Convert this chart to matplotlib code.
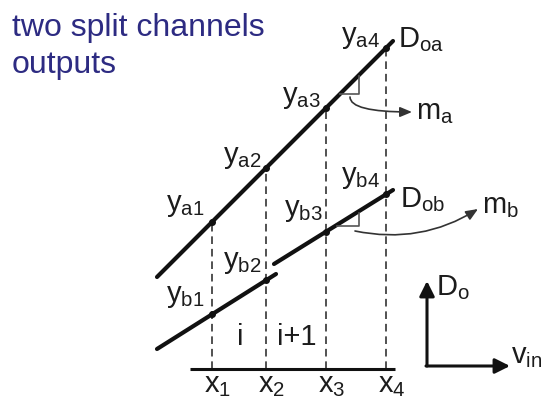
import matplotlib.pyplot as plt
from matplotlib.patches import FancyArrowPatch

plt.rcParams['font.family'] = ['Liberation Sans', 'DejaVu Sans']
plt.rcParams['mathtext.fontset'] = 'custom'
plt.rcParams['mathtext.rm'] = 'Liberation Sans'
plt.rcParams['mathtext.it'] = 'Liberation Sans'
plt.rcParams['lines.scale_dashes'] = False

# sampling points on the input axis
x_samples = [212, 266, 326, 386]
x_names = ['x_1', 'x_2', 'x_3', 'x_4']

# channel outputs at the sampling points
ya = [179, 233, 293, 353]
yb = [87, 121, 169, 207]
ya_names = ['y_{a1}', 'y_{a2}', 'y_{a3}', 'y_{a4}']
yb_names = ['y_{b1}', 'y_{b2}', 'y_{b3}', 'y_{b4}']

# drawn extent of each output segment
line_a_x, line_a_y = [157, 393], [124, 360]
line_b1_x, line_b1_y = [157, 276], [52, 127]
line_b2_x, line_b2_y = [274, 393], [137, 211]

base_y = 32
ink = '#111111'
txt = '#1c1c1c'

fig = plt.figure(figsize=(5.48, 4.02), dpi=100)
ax = fig.add_axes([0, 0, 1, 1])
ax.set_xlim(0, 548)
ax.set_ylim(0, 402)
ax.axis('off')

# title
ax.text(12, 366, 'two split channels', fontsize=23, color='#2d2b82', va='baseline')
ax.text(12, 329, 'outputs', fontsize=23, color='#2d2b82', va='baseline')

# dashed guides from the axis up to channel a
for x, y in zip(x_samples, ya):
    ax.plot([x, x], [base_y, y], color='#333333', lw=1.2, dashes=(5.5, 3.5))

# horizontal input axis
ax.plot([190, 395], [base_y, base_y], color=ink, lw=2.2, solid_capstyle='butt')

# output lines
ax.plot(line_a_x, line_a_y, color=ink, lw=3, solid_capstyle='round')
ax.plot(line_b1_x, line_b1_y, color=ink, lw=3, solid_capstyle='round')
ax.plot(line_b2_x, line_b2_y, color=ink, lw=3, solid_capstyle='round')
ax.plot(x_samples, ya, 'o', color=ink, ms=4)
ax.plot(x_samples, yb, 'o', color=ink, ms=4)

# slope triangles
ax.plot([340, 359, 359], [307, 307, 325], color='#555555', lw=1.2)
ax.plot([337, 359, 359], [175, 175, 188], color='#555555', lw=1.2)

fs = 21
# sample labels
ya_pos = [(204, 191), (261, 239), (321, 299), (380, 359)]
yb_pos = [(204, 100), (261, 134), (323, 186), (380, 219)]
for name, (px, py) in zip(ya_names, ya_pos):
    ax.text(px, py, r'$\mathregular{%s}$' % name, fontsize=fs, color=txt,
            ha='right', va='baseline')
for name, (px, py) in zip(yb_names, yb_pos):
    ax.text(px, py, r'$\mathregular{%s}$' % name, fontsize=fs, color=txt,
            ha='right', va='baseline')
for x, name in zip(x_samples, x_names):
    ax.text(x - 8, 10, r'$\mathregular{%s}$' % name, fontsize=fs, color=txt,
            ha='left', va='baseline')

ax.text(398, 355, r'$\mathregular{D_{oa}}$', fontsize=fs, color=txt, va='baseline')
ax.text(400, 195, r'$\mathregular{D_{ob}}$', fontsize=fs, color=txt, va='baseline')
ax.text(416, 283, r'$\mathregular{m_a}$', fontsize=fs, color=txt, va='baseline')
ax.text(482, 189, r'$\mathregular{m_b}$', fontsize=fs, color=txt, va='baseline')
ax.text(240, 57, 'i', fontsize=fs, color=txt, ha='center', va='baseline')
ax.text(297, 57, 'i+1', fontsize=fs, color=txt, ha='center', va='baseline')

# slope callouts
ax.add_patch(FancyArrowPatch((350, 304), (412, 289),
                             connectionstyle='angle3,angleA=90,angleB=0',
                             arrowstyle='-|>,head_length=0.6,head_width=0.25',
                             mutation_scale=12, color='#333333', lw=1.2,
                             shrinkA=0, shrinkB=0))
ax.add_patch(FancyArrowPatch((355, 170), (478, 192),
                             connectionstyle='arc3,rad=0.2',
                             arrowstyle='-|>,head_length=0.6,head_width=0.25',
                             mutation_scale=12, color='#333333', lw=1.2,
                             shrinkA=0, shrinkB=0))

# coordinate key
ax.add_patch(FancyArrowPatch((427, 35), (427, 120),
                             arrowstyle='-|>,head_length=0.6,head_width=0.3',
                             mutation_scale=15, color=ink, lw=2.2,
                             shrinkA=0, shrinkB=0))
ax.add_patch(FancyArrowPatch((426, 35), (510, 35),
                             arrowstyle='-|>,head_length=0.6,head_width=0.3',
                             mutation_scale=15, color=ink, lw=2.2,
                             shrinkA=0, shrinkB=0))
ax.text(436, 107, r'$\mathregular{D_o}$', fontsize=fs, color=txt, va='baseline')
ax.text(511, 39, r'$\mathregular{v_{in}}$', fontsize=fs, color=txt, va='baseline')

plt.savefig('out.png', dpi=100)
